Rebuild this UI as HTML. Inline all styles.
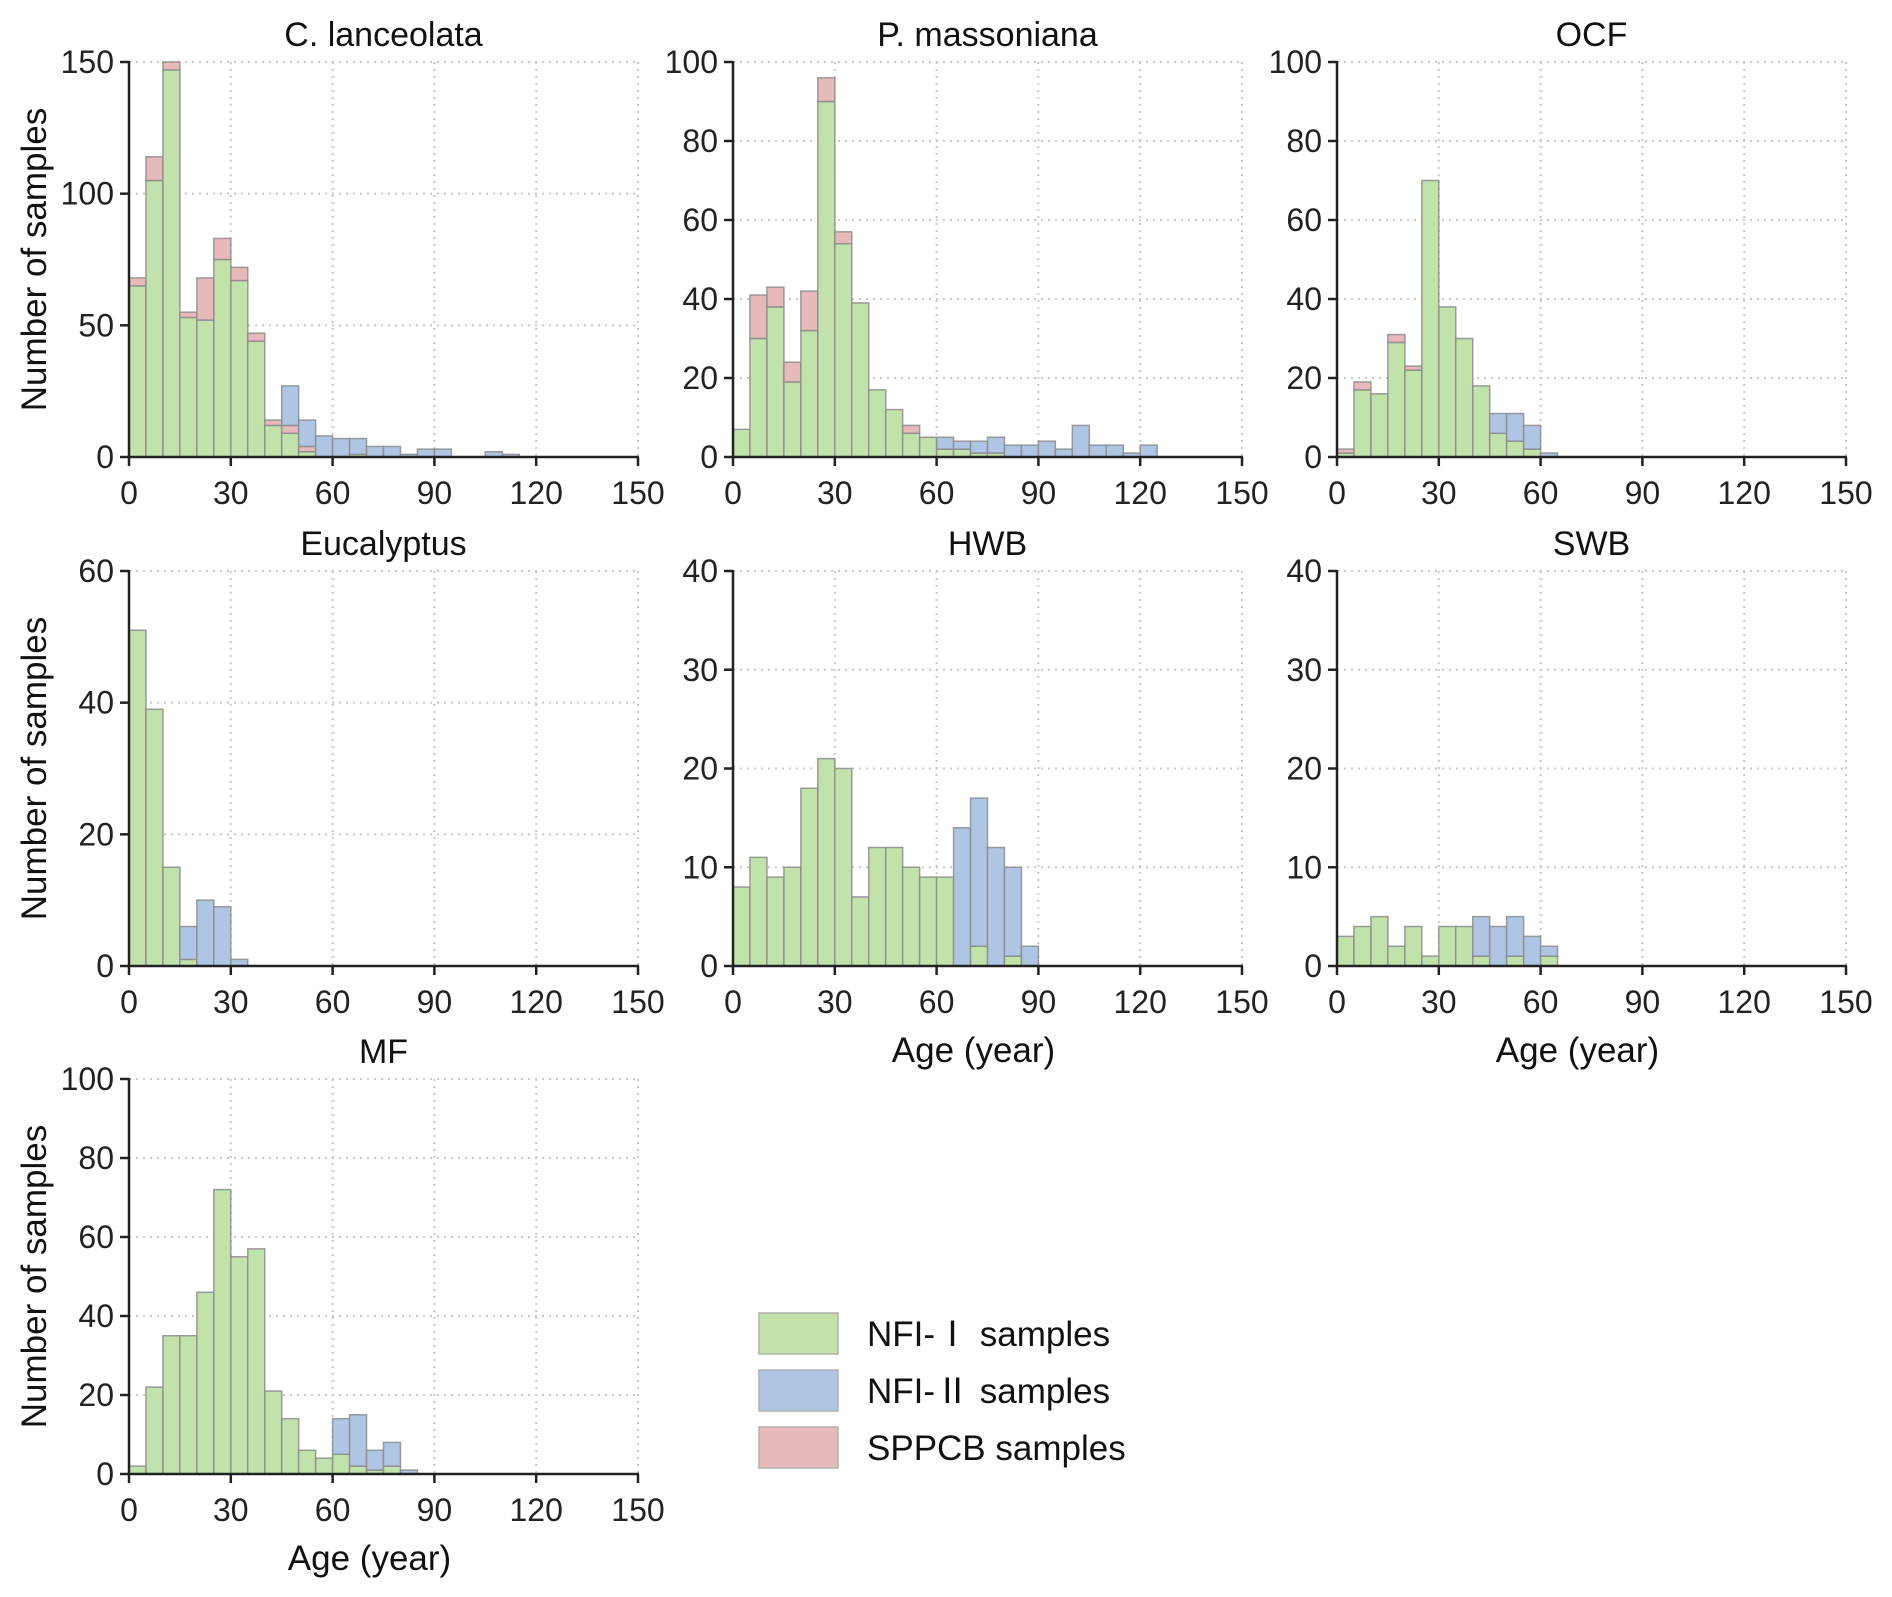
<!DOCTYPE html>
<html><head><meta charset="utf-8">
<style>
html,body{margin:0;padding:0;background:#fff;}
svg{display:block;font-family:"Liberation Sans","Noto Sans CJK SC",sans-serif;}
</style></head>
<body>
<svg id="fig" width="1892" height="1597" viewBox="0 0 1892 1597" xmlns="http://www.w3.org/2000/svg"></svg>
<script>
// bin starts (5-year bins)
const binWidth = 5;
const xTicks = [0, 30, 60, 90, 120, 150];
// C. lanceolata
const clGreen = [65,105,147,53,52,75,67,44,12,9,2,0,0,1,0,0,0,0,0,0,0,0,0];
const clPink  = [3,9,3,2,16,8,5,3,2,3,2,0,0,0,0,0,0,0,0,0,0,0,0];
const clBlue  = [0,0,0,0,0,0,0,0,0,15,10,8,7,6,4,4,1,3,3,0,0,2,1];
// P. massoniana
const pmGreen = [7,30,38,19,32,90,54,39,17,12,6,5,2,2,1,1,0,0,0,0,0,0,0,0,0];
const pmPink  = [0,11,5,5,10,6,3,0,0,0,2,0,0,0,0,0,0,0,0,0,0,0,0,0,0];
const pmBlue  = [0,0,0,0,0,0,0,0,0,0,0,0,3,2,3,4,3,3,4,2,8,3,3,1,3];
// OCF
const ocGreen = [1,17,16,29,22,70,38,30,18,6,4,2,0];
const ocPink  = [1,2,0,2,1,0,0,0,0,0,0,0,0];
const ocBlue  = [0,0,0,0,0,0,0,0,0,5,7,6,1];
// Eucalyptus
const euGreen = [51,39,15,1,0,0,0];
const euPink  = [0,0,0,0,0,0,0];
const euBlue  = [0,0,0,5,10,9,1];
// HWB
const hwGreen = [8,11,9,10,18,21,20,7,12,12,10,9,9,0,2,0,1,0];
const hwPink  = [0,0,0,0,0,0,0,0,0,0,0,0,0,0,0,0,0,0];
const hwBlue  = [0,0,0,0,0,0,0,0,0,0,0,0,0,14,15,12,9,2];
// SWB
const swGreen = [3,4,5,2,4,1,4,4,1,0,1,0,1];
const swPink  = [0,0,0,0,0,0,0,0,0,0,0,0,0];
const swBlue  = [0,0,0,0,0,0,0,0,4,4,4,3,1];
// MF
const mfGreen = [2,22,35,35,46,72,55,57,21,14,6,4,5,2,1,2,0];
const mfPink  = [0,0,0,0,0,0,0,0,0,0,0,0,0,0,0,0,0];
const mfBlue  = [0,0,0,0,0,0,0,0,0,0,0,0,9,13,5,6,1];

const clYTicks = [0,50,100,150];
const pmYTicks = [0,20,40,60,80,100];
const euYTicks = [0,20,40,60];
const hwYTicks = [0,10,20,30,40];

const panels = [
 {name:'c-lanceolata', title:'C. lanceolata', col:0,row:0, ymax:150, yt:clYTicks, g:clGreen,p:clPink,b:clBlue, ylab:true, xlab:false},
 {name:'p-massoniana', title:'P. massoniana', col:1,row:0, ymax:100, yt:pmYTicks, g:pmGreen,p:pmPink,b:pmBlue, ylab:false, xlab:false},
 {name:'ocf', title:'OCF', col:2,row:0, ymax:100, yt:pmYTicks, g:ocGreen,p:ocPink,b:ocBlue, ylab:false, xlab:false},
 {name:'eucalyptus', title:'Eucalyptus', col:0,row:1, ymax:60, yt:euYTicks, g:euGreen,p:euPink,b:euBlue, ylab:true, xlab:false},
 {name:'hwb', title:'HWB', col:1,row:1, ymax:40, yt:hwYTicks, g:hwGreen,p:hwPink,b:hwBlue, ylab:false, xlab:true},
 {name:'swb', title:'SWB', col:2,row:1, ymax:40, yt:hwYTicks, g:swGreen,p:swPink,b:swBlue, ylab:false, xlab:true},
 {name:'mf', title:'MF', col:0,row:2, ymax:100, yt:pmYTicks, g:mfGreen,p:mfPink,b:mfBlue, ylab:true, xlab:true}
];
const colX0 = [129, 733, 1337];
const plotW = 509;
const rowTop = [62, 571, 1079];
const plotH = 395;
const NS = 'http://www.w3.org/2000/svg';
const svg = document.getElementById('fig');
const C = {g:'#c1e3ab', p:'#e8b9bb', b:'#aec6e4'};

function mk(tag, attrs, parent){
  const e = document.createElementNS(NS, tag);
  for (const k in attrs) e.setAttribute(k, attrs[k]);
  (parent||svg).appendChild(e);
  return e;
}

panels.forEach(P => {
  const x0 = colX0[P.col], yT = rowTop[P.row], yB = yT + plotH;
  const xs = v => x0 + v/150*plotW;
  const ys = v => yB - v/P.ymax*plotH;
  const grp = mk('g', {});
  
  
  xTicks.slice(1).forEach(t => {
    const l = mk('line', {x1:xs(t), x2:xs(t), y1:yT, y2:yB, stroke:'#c8c8c8', 'stroke-width':2, 'stroke-dasharray':'2 5'}, grp);
    
    
  });
  P.yt.slice(1).forEach(t => {
    const l = mk('line', {x1:x0, x2:x0+plotW, y1:ys(t), y2:ys(t), stroke:'#c8c8c8', 'stroke-width':2, 'stroke-dasharray':'2 5'}, grp);
    
    
  });
  P.g.forEach((gv, i) => {
    const segs = [['g', gv], ['p', P.p[i]], ['b', P.b[i]]];
    let base = 0;
    segs.forEach(([k, v]) => {
      if (v <= 0) return;
      const r = mk('rect', {x:xs(i*binWidth), y:ys(base+v), width:xs(binWidth)-xs(0), height:ys(base)-ys(base+v), fill:C[k], stroke:'#8c8c8c', 'stroke-opacity':0.85, 'stroke-width':1.5}, grp);
      
      
      base += v;
    });
  });
  const ax = mk('line', {x1:x0, x2:x0+plotW+1, y1:yB, y2:yB, stroke:'#222', 'stroke-width':2.5}, grp);
  
  
  const ay = mk('line', {x1:x0, x2:x0, y1:yT-1, y2:yB+1, stroke:'#222', 'stroke-width':2.5}, grp);
  
  
  xTicks.forEach(t => {
    mk('line', {x1:xs(t), x2:xs(t), y1:yB, y2:yB+9, stroke:'#222', 'stroke-width':2.5}, grp);
    const tx = mk('text', {x:xs(t), y:yB+47, 'text-anchor':'middle', 'font-size':32, fill:'#222'}, grp);
    tx.textContent = t;
    
    
  });
  P.yt.forEach(t => {
    mk('line', {x1:x0-9, x2:x0, y1:ys(t), y2:ys(t), stroke:'#222', 'stroke-width':2.5}, grp);
    const tx = mk('text', {x:x0-15, y:ys(t)+11, 'text-anchor':'end', 'font-size':32, fill:'#222'}, grp);
    tx.textContent = t;
    
    
  });
  const ti = mk('text', {x:x0+plotW/2, y:yT-16, 'text-anchor':'middle', 'font-size':34, fill:'#111'}, grp);
  ti.textContent = P.title;
  
  
  if (P.ylab) {
    const cy = yT + plotH/2;
    const yl = mk('text', {x:0, y:0, transform:'translate(46,'+cy+') rotate(-90)', 'text-anchor':'middle', 'font-size':35, fill:'#111'}, grp);
    yl.textContent = 'Number of samples';
    
    
  }
  if (P.xlab) {
    const xl = mk('text', {x:x0+plotW/2-14, y:yB+96, 'text-anchor':'middle', 'font-size':35, fill:'#111'}, grp);
    xl.textContent = 'Age (year)';
    
    
  }
});

const legLabels = ['NFI-Ⅰ samples', 'NFI-Ⅱ samples', 'SPPCB samples'];
const legColors = [C.g, C.b, C.p];
const legTop = [1313, 1370, 1427];
const lg = mk('g', {});


legLabels.forEach((lab, i) => {
  const r = mk('rect', {x:759, y:legTop[i], width:79, height:41, fill:legColors[i], stroke:'#b0b0b0', 'stroke-width':1.5}, lg);
  
  
  const t = mk('text', {x:867, y:legTop[i]+33, 'font-size':35, fill:'#111'}, lg);
  t.textContent = lab;
  
  
});
</script>
</body></html>
